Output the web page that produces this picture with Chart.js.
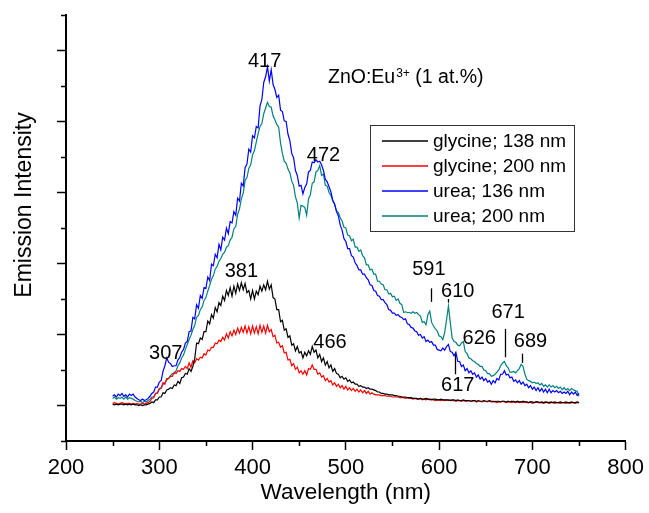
<!DOCTYPE html>
<html>
<head>
<meta charset="utf-8">
<script src="https://cdn.jsdelivr.net/npm/chart.js@4/dist/chart.umd.min.js"></script>
<style>
  html, body { margin: 0; padding: 0; background: #fff; }
  #wrap { width: 649px; height: 513px; }
</style>
</head>
<body>
<div id="wrap"><canvas id="c" width="649" height="513"></canvas></div>
<script>
const FONT = "'Liberation Sans', Arial, Helvetica, sans-serif";

// Sampling grid of the emission spectra: 250-750 nm, 2 nm steps
const wavelengths = [];
for (let w = 250; w <= 750; w += 2) wavelengths.push(w);

// Emission intensity (a.u.) for each wavelength
const glycine138 = [
  2, 1, 2, 1, 2, 2, 1, 2, 1, 2,
  1, 2, 1, 1, 0, 1, 0, 1, 1, 2,
  3, 5, 4, 8, 8, 12, 12, 18, 17, 22,
  23, 25, 24, 29, 28, 34, 31, 39, 40, 45,
  44, 52, 48, 55, 66, 88, 87, 95, 93, 104,
  104, 119, 115, 128, 123, 138, 132, 145, 141, 154,
  148, 162, 155, 166, 154, 168, 158, 171, 162, 173,
  163, 172, 159, 162, 150, 162, 150, 161, 156, 168,
  161, 170, 163, 175, 164, 170, 152, 150, 135, 135,
  118, 120, 106, 108, 96, 98, 85, 87, 77, 83,
  74, 76, 67, 75, 70, 77, 72, 83, 75, 78,
  67, 72, 62, 67, 57, 62, 53, 57, 48, 52,
  45, 44, 39, 41, 37, 39, 34, 36, 32, 33,
  30, 30, 27, 28, 26, 26, 24, 25, 23, 23,
  22, 21, 19, 19, 17, 17, 16, 16, 15, 15,
  15, 14, 14, 13, 13, 12, 12, 12, 11, 11,
  11, 10, 10, 10, 9, 10, 9, 9, 10, 9,
  9, 8, 9, 9, 8, 8, 9, 8, 8, 8,
  8, 7, 8, 8, 7, 8, 7, 7, 8, 7,
  7, 7, 6, 7, 7, 6, 7, 6, 6, 7,
  6, 6, 7, 6, 6, 5, 6, 6, 5, 6,
  6, 5, 6, 5, 6, 5, 5, 6, 5, 5,
  6, 5, 5, 4, 5, 5, 4, 5, 5, 4,
  5, 4, 5, 4, 4, 5, 4, 5, 4, 4,
  5, 4, 4, 5, 4, 4, 5, 4, 4, 5,
  4
];

const glycine200 = [
  3, 4, 3, 2, 3, 4, 3, 2, 3, 3,
  2, 3, 2, 3, 2, 2, 3, 2, 3, 4,
  6, 10, 11, 17, 18, 24, 25, 32, 30, 38,
  38, 41, 41, 47, 45, 49, 48, 52, 51, 55,
  52, 60, 54, 63, 60, 66, 64, 68, 67, 73,
  71, 78, 77, 82, 82, 88, 87, 92, 90, 96,
  92, 101, 95, 104, 98, 106, 100, 109, 102, 110,
  103, 112, 102, 111, 101, 112, 102, 111, 101, 113,
  103, 112, 102, 113, 104, 107, 97, 99, 88, 89,
  82, 84, 74, 75, 64, 65, 56, 59, 51, 54,
  46, 49, 44, 49, 43, 52, 51, 57, 51, 51,
  44, 46, 40, 42, 35, 38, 33, 35, 29, 32,
  27, 30, 25, 28, 23, 27, 22, 25, 21, 24,
  20, 23, 19, 22, 18, 21, 17, 20, 16, 18,
  16, 15, 15, 15, 14, 14, 14, 13, 13, 13,
  12, 12, 12, 12, 11, 11, 11, 10, 11, 10,
  10, 9, 10, 9, 9, 10, 8, 9, 8, 9,
  8, 9, 8, 7, 8, 8, 7, 8, 7, 8,
  7, 8, 7, 7, 6, 7, 7, 6, 7, 6,
  6, 7, 6, 6, 7, 5, 6, 6, 5, 6,
  6, 5, 6, 5, 5, 6, 4, 5, 5, 6,
  5, 4, 5, 5, 4, 6, 4, 5, 4, 5,
  4, 5, 4, 4, 5, 3, 4, 5, 4, 4,
  4, 3, 4, 5, 3, 4, 4, 3, 4, 4,
  3, 4, 4, 3, 4, 3, 4, 4, 3, 4,
  4
];

const urea136 = [
  13, 15, 12, 16, 14, 17, 13, 15, 12, 16,
  14, 16, 12, 10, 8, 7, 9, 7, 8, 10,
  13, 17, 19, 26, 26, 33, 35, 48, 56, 67,
  61, 59, 55, 56, 56, 64, 68, 75, 79, 88,
  90, 104, 105, 124, 122, 142, 137, 155, 151, 166,
  165, 181, 176, 199, 197, 213, 208, 227, 219, 237,
  233, 250, 242, 259, 257, 273, 268, 292, 288, 313,
  309, 335, 340, 361, 357, 380, 377, 393, 391, 422,
  431, 455, 463, 477, 457, 473, 452, 445, 434, 437,
  416, 414, 401, 400, 382, 373, 355, 349, 331, 324,
  309, 310, 298, 307, 312, 329, 331, 343, 342, 346,
  343, 344, 339, 331, 319, 315, 308, 301, 289, 284,
  273, 267, 254, 247, 235, 231, 221, 221, 211, 209,
  201, 197, 191, 191, 185, 185, 180, 177, 170, 169,
  162, 161, 155, 154, 149, 149, 145, 142, 135, 134,
  130, 130, 127, 128, 125, 124, 121, 122, 115, 114,
  110, 109, 105, 104, 99, 100, 95, 97, 90, 92,
  89, 90, 85, 85, 79, 78, 77, 81, 78, 83,
  86, 76, 75, 70, 75, 62, 62, 55, 57, 49,
  52, 46, 49, 44, 46, 40, 43, 37, 40, 35,
  38, 33, 35, 30, 35, 32, 38, 36, 44, 44,
  49, 43, 44, 39, 40, 34, 36, 32, 35, 30,
  33, 28, 30, 25, 28, 23, 26, 21, 25, 20,
  24, 19, 23, 18, 23, 18, 21, 19, 21, 18,
  20, 17, 19, 17, 20, 15, 19, 16, 19, 14,
  17
];

const urea200 = [
  10, 12, 9, 11, 10, 12, 9, 12, 9, 11,
  10, 9, 7, 6, 5, 6, 4, 6, 5, 7,
  9, 12, 12, 17, 17, 23, 24, 30, 32, 36,
  38, 42, 45, 45, 49, 56, 60, 67, 71, 79,
  86, 93, 99, 107, 113, 124, 127, 135, 139, 148,
  152, 161, 169, 178, 183, 192, 196, 203, 207, 213,
  216, 223, 225, 233, 237, 249, 252, 269, 277, 291,
  299, 317, 321, 334, 339, 353, 359, 371, 383, 393,
  397, 411, 419, 427, 421, 420, 408, 402, 396, 392,
  370, 355, 344, 341, 333, 328, 316, 310, 294, 285,
  264, 282, 281, 279, 268, 291, 297, 313, 315, 329,
  331, 338, 324, 326, 310, 309, 300, 296, 288, 283,
  274, 272, 264, 260, 251, 250, 240, 239, 232, 234,
  223, 223, 217, 219, 211, 208, 198, 198, 191, 192,
  185, 185, 175, 175, 171, 170, 163, 163, 157, 158,
  153, 154, 148, 150, 144, 142, 131, 132, 131, 131,
  130, 132, 130, 131, 128, 126, 117, 118, 114, 128,
  133, 117, 112, 108, 105, 98, 97, 93, 103, 121,
  140, 117, 95, 90, 89, 85, 84, 88, 90, 76,
  73, 67, 66, 63, 62, 59, 58, 55, 55, 50,
  49, 45, 45, 41, 42, 44, 47, 50, 56, 60,
  62, 56, 53, 47, 47, 48, 46, 49, 52, 58,
  55, 44, 37, 35, 34, 32, 33, 31, 32, 29,
  31, 27, 29, 26, 29, 26, 28, 25, 27, 24,
  26, 22, 25, 22, 24, 21, 24, 22, 21, 20,
  13
];

const seriesValues = [glycine138, glycine200, urea136, urea200];
const seriesLabels = ['glycine; 138 nm', 'glycine; 200 nm', 'urea; 136 nm', 'urea; 200 nm'];
const seriesColors = ['#000000', '#ff0000', '#0000ff', '#008080'];

// Axis ticks
const xTicks = [200, 300, 400, 500, 600, 700, 800];
const xMinorTicks = [250, 350, 450, 550, 650, 750];
const yTicks = [0, 100, 200, 300, 400, 500];
const yMinorTicks = [-50, 50, 150, 250, 350, 450, 550];

// Peak wavelengths (nm) marked on the spectra
const peakWavelengths = [307, 381, 417, 466, 472, 591, 610, 617, 626, 671, 689];
// Where each peak label sits: [wavelength, intensity] of the text centre
const peakLabelAt = {
  307: [307, 74], 381: [388, 190], 417: [413, 486], 466: [483, 90], 472: [476, 353],
  591: [589, 193], 610: [620, 162], 617: [620, 29], 626: [643, 96], 671: [674, 133], 689: [698, 92]
};
// Leader lines: intensity range of the short stroke at the peak wavelength
const peakLeaders = { 591: [165, 146], 610: [150, 145], 617: [72, 44], 671: [108, 68], 689: [73, 60] };

const decor = {
  id: 'decor',
  afterDraw(chart) {
    const { ctx, chartArea, scales } = chart;
    const xs = scales.x, ys = scales.y;
    ctx.save();
    ctx.strokeStyle = '#000';
    ctx.fillStyle = '#000';

    // minor tick marks
    ctx.lineWidth = 1.5;
    ctx.beginPath();
    xMinorTicks.forEach(v => {
      const px = Math.round(xs.getPixelForValue(v)) + 0.5;
      ctx.moveTo(px, chartArea.bottom);
      ctx.lineTo(px, chartArea.bottom + 5);
    });
    yMinorTicks.forEach(v => {
      const py = Math.round(ys.getPixelForValue(v)) + 0.5;
      ctx.moveTo(chartArea.left - 5, py);
      ctx.lineTo(chartArea.left, py);
    });
    ctx.stroke();

    // axis titles
    ctx.font = '22.5px ' + FONT;
    ctx.textAlign = 'center';
    ctx.textBaseline = 'alphabetic';
    ctx.fillText('Wavelength (nm)', (chartArea.left + chartArea.right) / 2, 499);
    ctx.save();
    ctx.translate(30.5, 205);
    ctx.rotate(-Math.PI / 2);
    ctx.font = '23px ' + FONT;
    ctx.fillText('Emission Intensity', 0, 0);
    ctx.restore();

    // sample title with superscript
    ctx.textAlign = 'left';
    ctx.font = '19.5px ' + FONT;
    let tx = 328;
    ctx.fillText('ZnO:Eu', tx, 83);
    tx += ctx.measureText('ZnO:Eu').width + 1;
    ctx.font = '12px ' + FONT;
    ctx.fillText('3+', tx, 77);
    tx += ctx.measureText('3+').width;
    ctx.font = '19.5px ' + FONT;
    ctx.fillText(' (1 at.%)', tx, 83);

    // peak labels and leader lines
    ctx.font = '20px ' + FONT;
    ctx.textAlign = 'center';
    ctx.textBaseline = 'middle';
    peakWavelengths.forEach(nm => {
      const [lx, ly] = peakLabelAt[nm];
      ctx.fillText(String(nm), xs.getPixelForValue(lx), ys.getPixelForValue(ly) + 1);
      if (peakLeaders[nm]) {
        const px = Math.round(xs.getPixelForValue(nm)) + 0.5;
        ctx.lineWidth = 1.3;
        ctx.beginPath();
        ctx.moveTo(px, ys.getPixelForValue(peakLeaders[nm][0]));
        ctx.lineTo(px, ys.getPixelForValue(peakLeaders[nm][1]));
        ctx.stroke();
      }
    });

    // legend box
    const bx = 370.5, by = 125.5, bw = 204, bh = 106;
    ctx.fillStyle = '#fff';
    ctx.fillRect(bx, by, bw, bh);
    ctx.strokeStyle = '#333';
    ctx.lineWidth = 1;
    ctx.strokeRect(bx, by, bw, bh);
    ctx.font = '19px ' + FONT;
    ctx.textAlign = 'left';
    ctx.textBaseline = 'middle';
    chart.data.datasets.forEach((ds, i) => {
      const rowY = 141 + i * 25;
      ctx.strokeStyle = ds.borderColor;
      ctx.lineWidth = 1.3;
      ctx.beginPath();
      ctx.moveTo(382, rowY);
      ctx.lineTo(428, rowY);
      ctx.stroke();
      ctx.fillStyle = '#000';
      ctx.fillText(ds.label, 433, rowY + 1);
    });
    ctx.restore();
  }
};

new Chart(document.getElementById('c'), {
  type: 'line',
  data: {
    datasets: seriesValues.map((vals, i) => ({
      label: seriesLabels[i],
      data: wavelengths.map((w, j) => ({ x: w, y: vals[j] })),
      borderColor: seriesColors[i],
      backgroundColor: seriesColors[i],
      borderWidth: 1.2,
      pointRadius: 0,
      tension: 0,
      fill: false
    }))
  },
  options: {
    responsive: false,
    animation: false,
    devicePixelRatio: 1,
    layout: { padding: { top: 15, right: 22, left: 0, bottom: 0 } },
    plugins: { legend: { display: false }, tooltip: { enabled: false }, title: { display: false } },
    scales: {
      x: {
        type: 'linear', min: 200, max: 800, position: 'bottom',
        afterBuildTicks: s => { s.ticks = xTicks.map(v => ({ value: v })); },
        afterFit: s => { s.height = 72; },
        ticks: { color: '#000', font: { family: FONT, size: 22 }, padding: 5, maxRotation: 0, autoSkip: false },
        grid: { drawOnChartArea: false, drawTicks: true, tickLength: 9, tickWidth: 1.5, tickColor: '#000' },
        border: { display: true, color: '#000', width: 2 }
      },
      y: {
        type: 'linear', min: -50, max: 550,
        afterBuildTicks: s => { s.ticks = yTicks.map(v => ({ value: v })); },
        afterFit: s => { s.width = 66; },
        ticks: { display: false },
        grid: { drawOnChartArea: false, drawTicks: true, tickLength: 9, tickWidth: 1.5, tickColor: '#000' },
        border: { display: true, color: '#000', width: 2 }
      }
    }
  },
  plugins: [decor]
});
</script>
</body>
</html>
